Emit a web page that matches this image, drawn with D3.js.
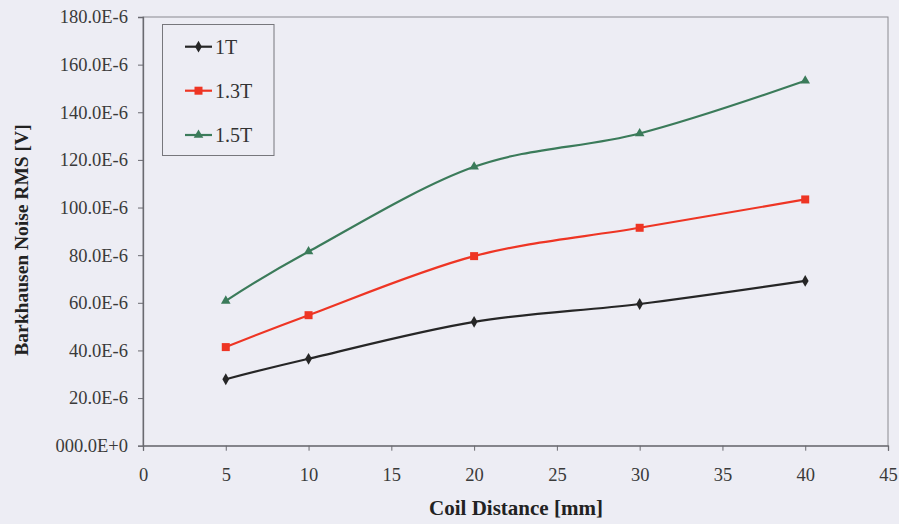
<!DOCTYPE html>
<html>
<head>
<meta charset="utf-8">
<script src="https://cdn.jsdelivr.net/npm/d3@7"></script>
<style>
  html, body { margin: 0; padding: 0; background: #ededf4; }
  svg { display: block; }
</style>
</head>
<body>
<svg id="chart" width="899" height="524"></svg>
<script>
// ---- Data (values in units of 1E-6 V) ----
const distances = [5, 10, 20, 30, 40];
const noise1T  = [27.9, 36.5, 52.0, 59.5, 69.2];
const noise13T = [41.4, 54.8, 79.6, 91.5, 103.4];
const noise15T = [60.8, 81.5, 117.1, 131.1, 153.2];
const seriesNames = ["1T", "1.3T", "1.5T"];
const xTicks = [0, 5, 10, 15, 20, 25, 30, 35, 40, 45];
const yTicks = [0, 20, 40, 60, 80, 100, 120, 140, 160, 180];
const yTickLabels = ["000.0E+0", "20.0E-6", "40.0E-6", "60.0E-6", "80.0E-6",
                     "100.0E-6", "120.0E-6", "140.0E-6", "160.0E-6", "180.0E-6"];
const xTitle = "Coil Distance [mm]";
const yTitle = "Barkhausen Noise RMS [V]";

const seriesValues = [noise1T, noise13T, noise15T];
const colors = ["#262626", "#ee3524", "#3b7b5a"];
const markers = ["diamond", "square", "triangle"];

const svg = d3.select("#chart");
const plotL = 143, plotR = 888, plotT = 17, plotB = 445.7;
const x = d3.scaleLinear().domain([0, 45]).range([plotL, plotR]);
const y = d3.scaleLinear().domain([0, 180]).range([plotB, plotT]);
const font = "'Liberation Serif', 'Times New Roman', serif";

// plot border (top/right)
svg.append("rect")
  .attr("x", plotL).attr("y", plotT)
  .attr("width", plotR - plotL).attr("height", plotB - plotT)
  .attr("fill", "none").attr("stroke", "#8a8a90").attr("stroke-width", 1);

// axes
const xAxis = d3.axisBottom(x).tickValues(xTicks).tickSize(5).tickPadding(17)
  .tickFormat(d3.format("d"));
const gx = svg.append("g").attr("transform", `translate(0,${plotB})`).call(xAxis);
const yAxis = d3.axisLeft(y).tickValues(yTicks).tickSize(5).tickPadding(10)
  .tickFormat((d, i) => yTickLabels[i]);
const gy = svg.append("g").attr("transform", `translate(${plotL},0)`).call(yAxis);

[gx, gy].forEach(g => {
  g.select(".domain").attr("stroke", "#6a6a70").attr("stroke-width", 1.3);
  g.selectAll(".tick line").attr("stroke", "#6a6a70");
  g.selectAll(".tick text")
    .attr("fill", "#3a3a3a")
    .style("font-family", font)
    .style("font-size", "18.5px");
});
gx.selectAll(".tick text").attr("dy", "0.71em");

// axis titles
svg.append("text")
  .attr("x", 516).attr("y", 515)
  .attr("text-anchor", "middle")
  .style("font-family", font).style("font-weight", "bold").style("font-size", "21px")
  .attr("fill", "#222")
  .text(xTitle);

svg.append("text")
  .attr("transform", `translate(28,240) rotate(-90)`)
  .attr("text-anchor", "middle")
  .style("font-family", font).style("font-weight", "bold").style("font-size", "19.5px")
  .attr("fill", "#222")
  .text(yTitle);

// lines
const line = d3.line()
  .x((d, i) => x(distances[i]))
  .y(d => y(d))
  .curve(d3.curveCardinal.tension(0));

function drawMarker(g, type, cx, cy, color) {
  if (type === "diamond") {
    g.append("path").attr("d", d3.symbol(d3.symbolDiamond, 40)())
      .attr("transform", `translate(${cx},${cy})`).attr("fill", color);
  } else if (type === "square") {
    g.append("rect").attr("x", cx - 4).attr("y", cy - 4).attr("width", 8).attr("height", 8)
      .attr("fill", color);
  } else {
    g.append("path").attr("d", d3.symbol(d3.symbolTriangle, 40)())
      .attr("transform", `translate(${cx},${cy})`).attr("fill", color);
  }
}

seriesValues.forEach((vals, s) => {
  const g = svg.append("g");
  g.append("path").datum(vals)
    .attr("d", line)
    .attr("fill", "none")
    .attr("stroke", colors[s])
    .attr("stroke-width", 2.2);
  vals.forEach((v, i) => drawMarker(g, markers[s], x(distances[i]), y(v), colors[s]));
});

// legend
const lg = svg.append("g");
lg.append("rect")
  .attr("x", 162.5).attr("y", 24.5).attr("width", 111.5).attr("height", 131)
  .attr("fill", "#ededf4").attr("stroke", "#77777c").attr("stroke-width", 1);
const legendY = [46.7, 90.7, 135];
seriesNames.forEach((name, s) => {
  lg.append("line")
    .attr("x1", 185).attr("x2", 212).attr("y1", legendY[s]).attr("y2", legendY[s])
    .attr("stroke", colors[s]).attr("stroke-width", 2.2);
  drawMarker(lg, markers[s], 198.5, legendY[s], colors[s]);
  lg.append("text")
    .attr("x", 215).attr("y", legendY[s]).attr("dy", "0.35em")
    .style("font-family", font).style("font-size", "20px")
    .attr("fill", "#333")
    .text(name);
});
</script>
</body>
</html>
